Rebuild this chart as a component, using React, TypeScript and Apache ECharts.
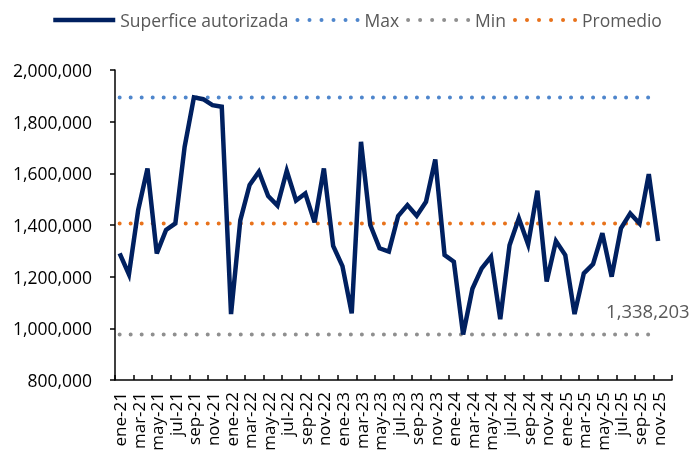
import React, { useEffect, useRef } from 'react';
import * as echarts from 'echarts';

const monthNames = ['ene', 'feb', 'mar', 'abr', 'may', 'jun', 'jul', 'ago', 'sep', 'oct', 'nov', 'dic'];
const years = ['21', '22', '23', '24', '25'];
const categories = years.flatMap((y) => monthNames.map((m) => `${m}-${y}`));

const superficie = [
  1290000, 1209000, 1458000, 1619000, 1290000, 1381000, 1406000, 1703000, 1894000, 1887000, 1864000, 1858000,
  1055000, 1419000, 1555000, 1606000, 1512000, 1475000, 1610000, 1495000, 1522000, 1410000, 1619000, 1319000,
  1241000, 1058000, 1722000, 1400000, 1310000, 1297000, 1435000, 1477000, 1436000, 1490000, 1654000, 1284000,
  1258000, 976000, 1153000, 1232000, 1277000, 1035000, 1322000, 1426000, 1325000, 1533000, 1181000, 1338000,
  1284000, 1055000, 1213000, 1249000, 1368000, 1200000, 1387000, 1445000, 1406000, 1597000, 1338203,
];

const maxValue = 1894000;
const minValue = 976000;
const promedio = 1406000;

const yMin = 800000;
const yMax = 2000000;
const yStep = 200000;

const FONT = 'Open Sans';
const NAVY = '#002060';
const BLUE = '#4f86cc';
const GRAY = '#8f8f8f';
const ORANGE = '#e8721b';

export default function App() {
  const ref = useRef<HTMLDivElement>(null);
  useEffect(() => {
    const chart = echarts.init(ref.current as HTMLDivElement, null, { renderer: 'svg' });
    const constSeries = (v: number) => superficie.map(() => v);
    const dotted = (color: string, pitch: number) => ({
      color,
      width: 4,
      type: [0.01, pitch] as number[],
      cap: 'round' as const,
    });
    const fmt = (v: number) => Number(v).toLocaleString('en-US');
    chart.setOption({
      animation: false,
      textStyle: { fontFamily: FONT },
      legend: {
        left: 46,
        top: 6,
        itemWidth: 62,
        itemHeight: 22,
        itemGap: 7,
        itemStyle: { opacity: 0 },
        textStyle: { fontFamily: FONT, fontSize: 17.5, color: '#595959' },
        data: [
          { name: 'Superfice autorizada', lineStyle: { color: NAVY, width: 4.5, type: 'solid' } },
          { name: 'Max', lineStyle: dotted(BLUE, 12) },
          { name: 'Min', lineStyle: dotted(GRAY, 12) },
          { name: 'Promedio', lineStyle: dotted(ORANGE, 12) },
        ],
      },
      grid: { left: 115, right: 18, top: 70, bottom: 74, containLabel: false, outerBoundsMode: 'none' },
      xAxis: {
        type: 'category',
        data: categories,
        boundaryGap: true,
        axisLine: { show: true, lineStyle: { color: '#000', width: 1.5 } },
        axisTick: { show: true, inside: true, length: 5, interval: 1, lineStyle: { color: '#000', width: 1.5 } },
        axisLabel: {
          interval: 1,
          rotate: 90,
          fontFamily: FONT,
          fontSize: 17,
          color: '#000',
          margin: 12,
        },
        splitLine: { show: false },
      },
      yAxis: {
        type: 'value',
        min: yMin,
        max: yMax,
        interval: yStep,
        axisLine: { show: true, lineStyle: { color: '#000', width: 1.5 } },
        axisTick: { show: true, inside: false, length: 5, lineStyle: { color: '#000', width: 1.5 } },
        axisLabel: {
          fontFamily: FONT,
          fontSize: 17.5,
          color: '#000',
          margin: 23,
          formatter: (v: number) => fmt(v),
        },
        splitLine: { show: false },
      },
      series: [
        {
          name: 'Max',
          type: 'line',
          data: constSeries(maxValue),
          symbol: 'none',
          lineStyle: dotted(BLUE, 11),
          itemStyle: { color: BLUE },
          z: 1,
        },
        {
          name: 'Min',
          type: 'line',
          data: constSeries(minValue),
          symbol: 'none',
          lineStyle: dotted(GRAY, 11),
          itemStyle: { color: GRAY },
          z: 1,
        },
        {
          name: 'Promedio',
          type: 'line',
          data: constSeries(promedio),
          symbol: 'none',
          lineStyle: dotted(ORANGE, 11),
          itemStyle: { color: ORANGE },
          z: 1,
        },
        {
          name: 'Superfice autorizada',
          type: 'line',
          data: superficie,
          symbol: 'none',
          lineStyle: { color: NAVY, width: 4.5, join: 'miter' },
          itemStyle: { color: NAVY },
          endLabel: {
            show: true,
            offset: [-60, 70],
            fontFamily: FONT,
            fontSize: 18.5,
            color: '#595959',
            formatter: (p: any) => fmt(Array.isArray(p.value) ? p.value[1] : p.value),
          },
          z: 3,
        },
      ],
    });
    return () => chart.dispose();
  }, []);
  return <div ref={ref} style={{ position: 'fixed', left: 0, top: 0, width: 690, height: 454 }} />;
}
